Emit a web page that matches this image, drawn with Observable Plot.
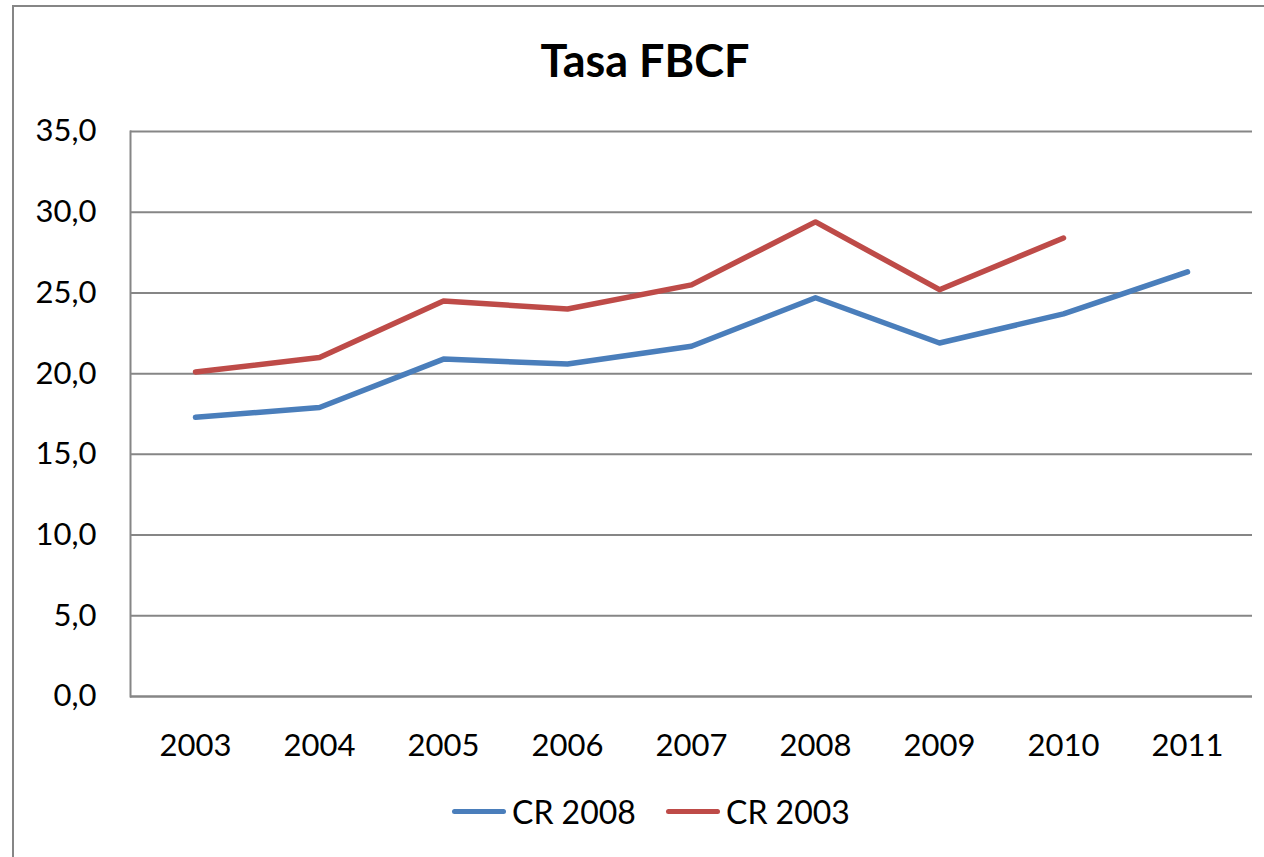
<!DOCTYPE html>
<html>
<head>
<meta charset="utf-8">
<script src="https://cdn.jsdelivr.net/npm/d3@7"></script>
<script src="https://cdn.jsdelivr.net/npm/@observablehq/plot@0.6"></script>
<style>
  html, body { margin: 0; padding: 0; background: #fff; }
  #wrap { position: relative; width: 1264px; height: 857px; overflow: hidden; font-family: Lato, "Open Sans", sans-serif; }
  #frame { position: absolute; left: 12px; top: 5px; width: 1300px; height: 900px; border-left: 2px solid #868686; border-top: 2px solid #868686; }
  #title { position: absolute; left: 0; width: 1290px; top: 33px; text-align: center; font-weight: bold; font-size: 45px; color: #000; }
  #chart { position: absolute; left: 0; top: 0; }
  .leg { position: absolute; top: 792px; font-size: 32px; color: #000; display: flex; align-items: center; }
  .leg span.sw { display: inline-block; width: 54px; height: 5px; border-radius: 3px; margin-right: 6px; }
</style>
</head>
<body>
<div id="wrap">
  <div id="frame"></div>
  <div id="chart"></div>
  <div id="title">Tasa FBCF</div>
  <div class="leg" style="left:452px"><span class="sw" style="background:#4A7EBB"></span>CR 2008</div>
  <div class="leg" style="left:666px"><span class="sw" style="background:#BE4B48"></span>CR 2003</div>
</div>
<script>
const years = ["2003","2004","2005","2006","2007","2008","2009","2010","2011"];
const cr2008 = [17.3, 17.9, 20.9, 20.6, 21.7, 24.7, 21.9, 23.7, 26.3];
const cr2003 = [20.1, 21.0, 24.5, 24.0, 25.5, 29.4, 25.2, 28.4, null];
const yTicks = [0, 5, 10, 15, 20, 25, 30, 35];
const seriesNames = ["CR 2008", "CR 2003"];
const seriesColors = ["#4A7EBB", "#BE4B48"];

const rows = [];
years.forEach((y, i) => {
  rows.push({year: y, value: cr2008[i], series: seriesNames[0]});
  if (cr2003[i] != null) rows.push({year: y, value: cr2003[i], series: seriesNames[1]});
});

const fmt = d => d.toFixed(1).replace(".", ",");

const chart = Plot.plot({
  width: 1264,
  height: 857,
  marginLeft: 130,
  marginRight: 12,
  marginTop: 131,
  marginBottom: 161,
  style: {fontFamily: "Lato, 'Open Sans', sans-serif", fontSize: "31px", color: "#000", background: "transparent", overflow: "visible"},
  x: {type: "point", domain: years, padding: 0.5, label: null, tickSize: 0, tickPadding: 37},
  y: {domain: [0, 35], ticks: yTicks, tickFormat: fmt, label: null, tickSize: 0, tickPadding: 34},
  color: {domain: seriesNames, range: seriesColors},
  marks: [
    Plot.gridY(yTicks, {stroke: "#868686", strokeOpacity: 1, strokeWidth: 2}),
    Plot.frame({anchor: "left", stroke: "#868686", strokeWidth: 2}),
    Plot.ruleY([0], {stroke: "#868686", strokeWidth: 2}),
    Plot.line(rows, {x: "year", y: "value", z: "series", stroke: "series", strokeWidth: 5.5, strokeLinecap: "round", strokeLinejoin: "round"})
  ]
});
document.getElementById("chart").appendChild(chart);
</script>
</body>
</html>
